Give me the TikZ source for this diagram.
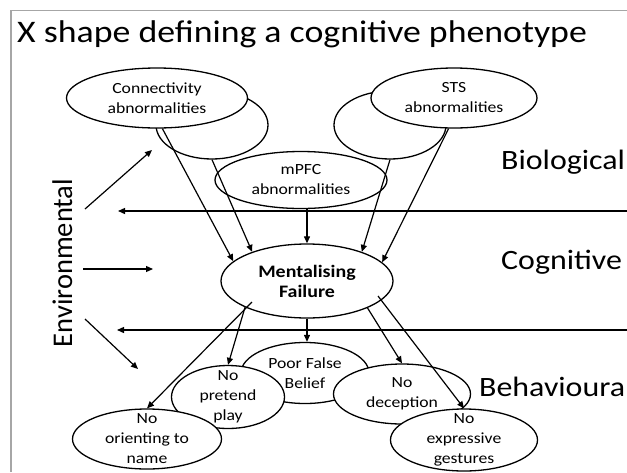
\documentclass[tikz,border=0pt]{standalone}
\usepackage{fontspec}
\setmainfont{Carlito}[FakeStretch=1.14]
\newfontfamily\upfont{Carlito}
\usepackage{tikz}
\usetikzlibrary{arrows.meta,shapes.geometric,calc}

\begin{document}
\begin{tikzpicture}[
  x=1pt, y=-1pt,
  >={Triangle[length=7pt,width=6pt]},
  blob/.style={ellipse, draw, fill=white, line width=1.3pt, inner xsep=0pt, inner ysep=-8pt, align=center, font=\fontsize{15.5}{20}\selectfont},
  layer/.style={anchor=base west, inner sep=0pt, font=\fontsize{28}{34}\selectfont},
  lnk/.style={->, line width=1.2pt},
  bar/.style={->, line width=1.3pt},
  frame/.style={draw=gray!70, line width=1.4pt}
]
\useasboundingbox (0,0) rectangle (627,472);

% slide frame and title
\draw[frame] (11,472) -- (11,10.5) -- (627,10.5);
\node[anchor=base west, inner sep=0pt, font=\fontsize{31.4}{36}\selectfont] (title) at (17,42) {X shape defining a cognitive phenotype};

% level names
\node[layer] (bio) at (501,169) {Biological};
\node[layer] (cog) at (501,269) {Cognitive};
\node[layer] (beh) at (479,396) {Behavioura};
\node[rotate=90, anchor=base, inner sep=0pt, font=\upfont\fontsize{28.5}{34}\selectfont] (env) at (72,263) {Environmental};

% biological level (back copies first)
\node[blob, minimum width=112pt, minimum height=68pt] (connback) at (212,125) {};
\node[blob, minimum width=181pt, minimum height=60pt] (conn) at (157,98) {Connectivity\\abnormalities};
\node[blob, minimum width=112pt, minimum height=68pt] (stsback) at (390,125) {};
\node[blob, minimum width=166pt, minimum height=60pt] (sts) at (454,98) {STS\\abnormalities};
\node[blob, minimum width=172pt, minimum height=57pt] (mpfc) at (301,180) {mPFC\\abnormalities};

% cognitive level
\node[blob, minimum width=172pt, minimum height=74pt, font=\bfseries\fontsize{17.5}{20}\selectfont] (ment) at (307,281) {Mentalising\\Failure};

% behavioural level
\node[blob, minimum width=128pt, minimum height=61pt] (belief) at (305,373) {Poor False\\Belief};
\node[blob, minimum width=113pt, minimum height=63pt] (pretend) at (228,397) {No\\pretend\\play};
\node[blob, minimum width=137pt, minimum height=60pt] (decep) at (402,394) {No\\deception};
\node[blob, minimum width=149pt, minimum height=60pt] (orient) at (147,439) {No\\orienting to\\name};
\node[blob, minimum width=147pt, minimum height=62pt] (gest) at (464,440) {No\\expressive\\gestures};

% free ends of the side arrows and level bars
\coordinate (e1s) at (85,209);  \coordinate (e1t) at (152,150);
\coordinate (e2s) at (83,269);  \coordinate (e2t) at (153,269);
\coordinate (e3s) at (85,319);  \coordinate (e3t) at (138,369);
\coordinate (r1) at (627,211);  \coordinate (l1) at (118,211);
\coordinate (r2) at (627,330);  \coordinate (l2) at (117,330);

\draw[bar] (r1) -- (l1);
\draw[bar] (r2) -- (l2);

\draw[lnk] (e1s) -- (e1t);
\draw[lnk] (e2s) -- (e2t);
\draw[lnk] (e3s) -- (e3t);

% into Mentalising
\draw[lnk] (conn.-80) -- (ment.165);
\draw[lnk] (connback.south) -- (ment.152);
\draw[lnk] (mpfc.south -| ment.north) -- (ment.north);
\draw[lnk] (stsback.south) -- (ment.28);
\draw[lnk] (sts.-100) -- (ment.14);

% out of Mentalising
\draw[lnk] ($(ment.center)+(-55,21)$) -- (orient.north);
\draw[lnk] (ment.203) -- (pretend.north);
\draw[lnk] (ment.south) -- (ment.south |- belief.north);
\draw[lnk] (ment.-24) -- (decep.north);
\draw[lnk] ($(ment.center)+(71,15)$) -- (gest.north);

\end{tikzpicture}
\end{document}
